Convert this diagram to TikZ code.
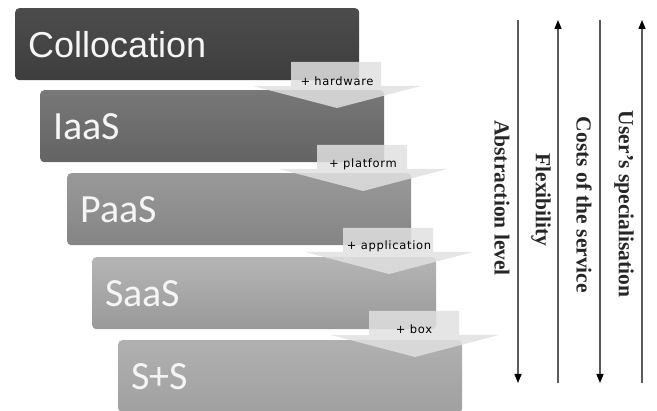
\documentclass[tikz,border=0pt]{standalone}
\usepackage{fontspec}
\setmainfont{Liberation Serif}
\newfontfamily\arialf{Liberation Sans}
\newfontfamily\calf{Carlito}
\newfontfamily\smallf[LetterSpace=6]{DejaVu Sans}
\usetikzlibrary{arrows.meta}
\definecolor{arrowgray}{HTML}{E0E0E0}
\definecolor{axisgray}{HTML}{5A5A5A}
\begin{document}
\begin{tikzpicture}[x=1pt,y=-1pt,
  layer/.style={anchor=north west, rounded corners=4pt, minimum width=344pt,
    minimum height=72pt, inner xsep=13pt, text width=318pt, align=left,
    text=white!96!black, font=\calf\fontsize{40}{40}\selectfont},
  steparrow/.style={fill=arrowgray, fill opacity=0.85, draw=none},
  steplabel/.style={font=\smallf\fontsize{11.5}{13}\selectfont, text=black, inner sep=0pt},
  axisline/.style={draw=axisgray, line width=1.4pt},
  axistip/.style={-{Triangle[length=9pt,width=7pt,fill=black,color=black]}},
  axislabel/.style={rotate=-90, font=\bfseries\fontsize{21.5}{24}\selectfont, text=black!85, inner sep=0pt}
]
\useasboundingbox (0,0) rectangle (657,411);

% layers
\node[layer, top color=black!70, bottom color=black!76,
      font=\arialf\fontsize{36}{36}\selectfont] (coll) at (15,8) {Collocation};
\node[layer, top color=black!53, bottom color=black!61] (iaas) at (40,90) {IaaS};
\node[layer, top color=black!40, bottom color=black!48] (paas) at (67,173) {PaaS};
\node[layer, top color=black!29, bottom color=black!40] (saas) at (92,257) {SaaS};
\node[layer, top color=black!31, bottom color=black!37] (ss) at (118,340) {S+S};

% step arrows
\foreach \i/\dx/\dy in {1/0/0, 2/26/83, 3/52/166, 4/78/249} {
  \fill[steparrow, shift={(\dx,\dy)}]
    (291,62) -- (381,62) -- (381,86) -- (421,86) -- (337,108)
    -- (253,86) -- (291,86) -- cycle;
}
\node[steplabel] (lhw) at (337,81) {+ hardware};
\node[steplabel] (lpf) at (363,164) {+ platform};
\node[steplabel] (lap) at (389,246) {+ application};
\node[steplabel] (lbx) at (414,329) {+ box};

% vertical axes
\coordinate (a1t) at (518,20);  \coordinate (a1b) at (518,383);
\coordinate (a2t) at (558,20);  \coordinate (a2b) at (558,383);
\coordinate (a3t) at (600,20);  \coordinate (a3b) at (600,383);
\coordinate (a4t) at (642,20);  \coordinate (a4b) at (642,383);
\draw[axisline, axistip] (a1t) -- (a1b);
\draw[axisline, axistip] (a2b) -- (a2t);
\draw[axisline, axistip] (a3t) -- (a3b);
\draw[axisline, axistip] (a4b) -- (a4t);

\node[axislabel] (labs) at (502,198) {Abstraction level};
\node[axislabel] (lflx) at (541,200) {Flexibility};
\node[axislabel] (lcst) at (584,205) {Costs of the service};
\node[axislabel] (lusr) at (624,204) {User's specialisation};
\end{tikzpicture}
\end{document}
